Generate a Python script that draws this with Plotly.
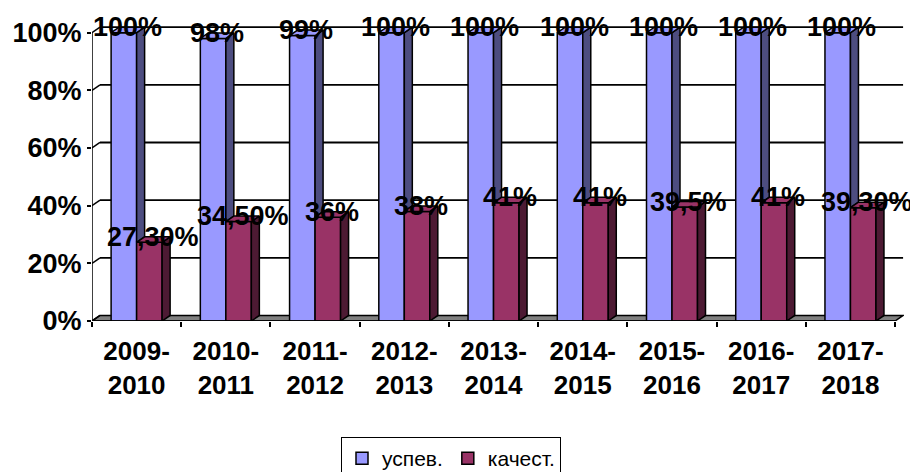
import plotly.graph_objects as go

# ---------------- data ----------------
categories = ["2009-<br>2010", "2010-<br>2011", "2011-<br>2012", "2012-<br>2013", "2013-<br>2014",
              "2014-<br>2015", "2015-<br>2016", "2016-<br>2017", "2017-<br>2018"]
uspev = [1.00, 0.98, 0.99, 1.00, 1.00, 1.00, 1.00, 1.00, 1.00]
kachest = [0.273, 0.345, 0.36, 0.38, 0.41, 0.41, 0.395, 0.41, 0.393]
uspev_labels = ["100%", "98%", "99%", "100%", "100%", "100%", "100%", "100%", "100%"]
kachest_labels = ["27,30%", "34,50%", "36%", "38%", "41%", "41%", "39,5%", "41%", "39,30%"]
series_names = ["успев.", "качест."]
y_ticks = [0, 0.2, 0.4, 0.6, 0.8, 1.0]
y_tick_text = ["0%", "20%", "40%", "60%", "80%", "100%"]

# ---------------- styling / geometry ----------------
BLUE, BLUE_SIDE = "#9999FF", "#4D4D80"
RED, RED_SIDE = "#993366", "#4D1A33"
FONT = "Liberation Sans, Arial, sans-serif"
PAGE_OFF = 8                       # default body margin of the html page
W, H = 918 - PAGE_OFF, 472 - PAGE_OFF
L_PX, R_FRONT_PX, Y0_PX, Y100_PX = 92 - PAGE_OFF, 895 - PAGE_OFF, 321 - PAGE_OFF, 33 - PAGE_OFF
n = len(categories)
unit = (R_FRONT_PX - L_PX) / n          # px per category
yunit = (Y0_PX - Y100_PX)              # px per 1.0
DX = 8 / unit                           # depth offset in x units
DY = 5.5 / yunit                        # depth offset in y units
BW = 25.5 / unit                        # bar width
X_MAX = n - 0.5 + 0.1
Y_MAX = 1.03
plot_w = (X_MAX + 0.5) * unit
plot_h = Y_MAX * yunit
m_r = W - L_PX - plot_w
m_b = H - Y0_PX
m_t = H - m_b - plot_h

xs = list(range(n))
fig = go.Figure()

# front faces (bars)
fig.add_trace(go.Bar(x=xs, y=uspev, name=series_names[0], width=BW, offset=-BW,
                     marker=dict(color=BLUE, line=dict(color="black", width=1.5))))
fig.add_trace(go.Bar(x=xs, y=kachest, name=series_names[1], width=BW, offset=0,
                     marker=dict(color=RED, line=dict(color="black", width=1.5))))


def poly_trace(polys, color):
    px, py = [], []
    for p in polys:
        for (a, b) in p:
            px.append(a)
            py.append(b)
        px.append(p[0][0]); py.append(p[0][1])
        px.append(None); py.append(None)
    return go.Scatter(x=px, y=py, mode="lines", fill="toself", fillcolor=color,
                      line=dict(color="black", width=1.5), showlegend=False,
                      hoverinfo="skip")


# blue side (visible above red bar) and blue top
blue_side = [[(k, r), (k + DX, r + DY), (k + DX, v + DY), (k, v)]
             for k, v, r in zip(xs, uspev, kachest)]
blue_top = [[(k - BW, v), (k, v), (k + DX, v + DY), (k - BW + DX, v + DY)]
            for k, v in zip(xs, uspev)]
red_side = [[(k + BW, 0), (k + BW + DX, DY), (k + BW + DX, r + DY), (k + BW, r)]
            for k, r in zip(xs, kachest)]
red_top = [[(k, r), (k + BW, r), (k + BW + DX, r + DY), (k + DX, r + DY)]
           for k, r in zip(xs, kachest)]
fig.add_trace(poly_trace(blue_side, BLUE_SIDE))
fig.add_trace(poly_trace(blue_top, BLUE))
fig.add_trace(poly_trace(red_side, RED_SIDE))
fig.add_trace(poly_trace(red_top, RED))

# back wall gridlines, connectors, floor, front value axis
shapes = []
x_left, x_right = -0.5, n - 0.5
shapes.append(dict(type="path", layer="below", xref="x", yref="y",
                   path=f"M {x_left},0 L {x_right},0 L {x_right + DX},{DY} L {x_left + DX},{DY} Z",
                   fillcolor="#808080", line=dict(color="black", width=1.5)))
for v in y_ticks[1:]:
    shapes.append(dict(type="line", layer="below", xref="x", yref="y",
                       x0=x_left + DX, x1=x_right + DX, y0=v + DY, y1=v + DY,
                       line=dict(color="black", width=1.8)))
for v in y_ticks:
    shapes.append(dict(type="line", layer="below", xref="x", yref="y",
                       x0=x_left, x1=x_left + DX, y0=v, y1=v + DY,
                       line=dict(color="black", width=1.5)))
shapes.append(dict(type="line", layer="above", xref="x", yref="y",
                   x0=x_left, x1=x_left, y0=0, y1=1.0,
                   line=dict(color="black", width=1.5)))
shapes.append(dict(type="line", layer="above", xref="x", yref="y",
                   x0=x_left, x1=x_right, y0=0, y1=0,
                   line=dict(color="black", width=1.5)))

# data labels
annotations = []
lab_font = dict(family=FONT, size=27, color="black", weight="bold")
for k, v, t in zip(xs, uspev, uspev_labels):
    annotations.append(dict(x=k - BW / 2 + DX / 2, y=v + DY, text=t, showarrow=False,
                            xanchor="center", yanchor="middle", font=lab_font))
for k, v, t in zip(xs, kachest, kachest_labels):
    annotations.append(dict(x=k + BW / 2 + DX / 2, y=v + DY, text=t, showarrow=False,
                            xanchor="center", yanchor="middle", font=lab_font))

fig.update_layout(
    width=W, height=H,
    margin=dict(l=L_PX, r=m_r, t=m_t, b=m_b, autoexpand=False),
    paper_bgcolor="white", plot_bgcolor="white",
    barmode="overlay",
    showlegend=True,
    shapes=shapes, annotations=annotations,
    font=dict(family=FONT, color="black"),
    xaxis=dict(range=[-0.5, X_MAX], tickvals=xs, ticktext=categories,
               ticks="", showgrid=False, zeroline=False, showline=False,
               ticklabelstandoff=12,
               tickfont=dict(family=FONT, size=26, color="black", weight="bold"),
               minor=dict(tickvals=[k + 0.5 for k in range(-1, n)], ticks="outside",
                          ticklen=5, tickwidth=1.5, tickcolor="black", showgrid=False)),
    yaxis=dict(range=[0, Y_MAX], tickvals=y_ticks, ticktext=y_tick_text,
               ticks="outside", ticklen=4, tickwidth=1.5, tickcolor="black",
               showgrid=False, zeroline=False, showline=False,
               tickfont=dict(family=FONT, size=27, color="black", weight="bold")),
    legend=dict(orientation="h", xref="container", yref="container",
                x=(341 - PAGE_OFF) / W, xanchor="left", y=1 - (437 - PAGE_OFF) / H, yanchor="top",
                bordercolor="black", borderwidth=1, bgcolor="white",
                font=dict(family=FONT, size=21, color="black"),
                itemwidth=30, tracegroupgap=0),
)

fig.write_html("out.html")
